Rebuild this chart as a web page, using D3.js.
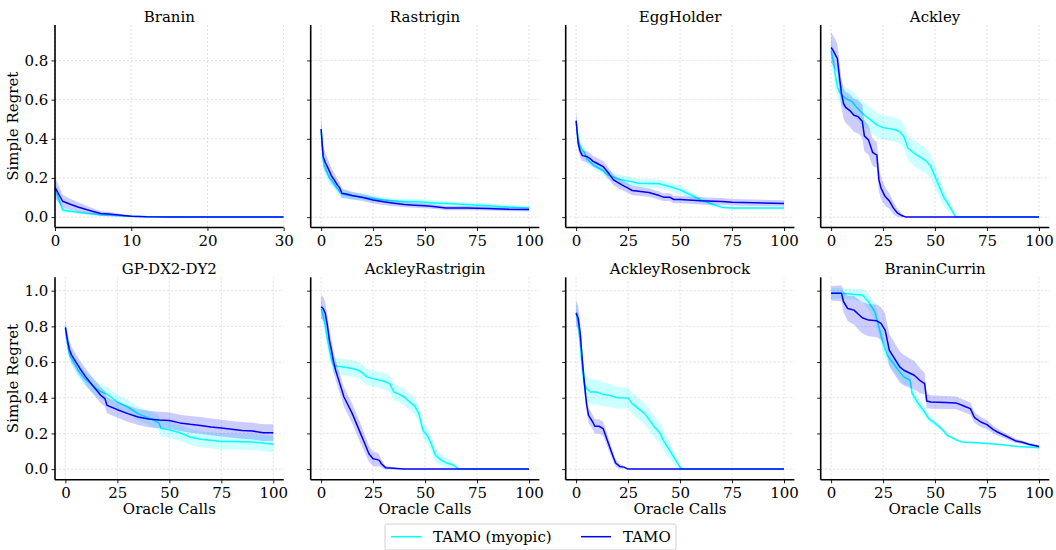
<!DOCTYPE html>
<html>
<head>
<meta charset="utf-8">
<script src="https://cdn.jsdelivr.net/npm/d3@7"></script>
<style>
  html, body { margin: 0; padding: 0; background: #fff; }
  svg { display: block; }
  svg text { font-family: "DejaVu Serif", serif; }
</style>
</head>
<body>
<svg id="chart" width="1056" height="550"></svg>
<script>
// Simple regret vs. oracle calls: each row is [x, mean, half-width of band]
const titles = ["Branin", "Rastrigin", "EggHolder", "Ackley",
                "GP-DX2-DY2", "AckleyRastrigin", "AckleyRosenbrock", "BraninCurrin"];
const seriesNames = ["TAMO (myopic)", "TAMO"];
const xTicksShort = [0, 10, 20, 30];
const xTicksLong = [0, 25, 50, 75, 100];
const yTicksTop = [0, 0.2, 0.4, 0.6, 0.8];
const yTicksBottom = [0, 0.2, 0.4, 0.6, 0.8, 1.0];

const braninMyopic = [[0,0.148,0.045],[1,0.036,0.010],[2,0.030,0.009],[3,0.025,0.008],[4,0.020,0.007],[5,0.016,0.006],[6,0.012,0.005],[7,0.010,0.004],[8,0.008,0.003],[9,0.006,0.003],[10,0.004,0.002],[12,0.002,0.001],[15,0.001,0.0005],[20,0.0005,0],[30,0.0005,0]];
const braninTamo = [[0,0.152,0.055],[1,0.081,0.033],[2,0.066,0.028],[3,0.052,0.024],[4,0.040,0.020],[5,0.029,0.016],[6,0.018,0.012],[7,0.016,0.011],[8,0.012,0.009],[9,0.008,0.007],[10,0.005,0.005],[12,0.002,0.002],[15,0.001,0.001],[20,0.0005,0],[30,0.0005,0]];

const rastriginMyopic = [[0,0.44,0.06],[1,0.29,0.045],[2,0.255,0.04],[3,0.225,0.036],[4,0.2,0.033],[5,0.19,0.03],[6,0.175,0.028],[7,0.16,0.026],[8,0.145,0.024],[9,0.13,0.022],[10,0.118,0.02],[12,0.114,0.019],[15,0.108,0.018],[20,0.103,0.017],[25,0.095,0.016],[30,0.088,0.015],[35,0.083,0.015],[40,0.080,0.014],[45,0.078,0.014],[50,0.076,0.014],[55,0.072,0.013],[60,0.069,0.013],[70,0.064,0.012],[80,0.058,0.012],[90,0.052,0.011],[100,0.047,0.011]];
const rastriginTamo = [[0,0.45,0.075],[1,0.31,0.055],[2,0.28,0.05],[3,0.258,0.045],[4,0.235,0.042],[5,0.21,0.04],[6,0.195,0.036],[7,0.178,0.033],[8,0.162,0.03],[9,0.148,0.028],[10,0.122,0.024],[12,0.118,0.022],[15,0.110,0.02],[20,0.100,0.018],[25,0.087,0.017],[30,0.078,0.016],[35,0.071,0.015],[40,0.064,0.014],[45,0.061,0.013],[50,0.058,0.013],[55,0.053,0.012],[60,0.046,0.011],[70,0.046,0.011],[80,0.044,0.01],[90,0.040,0.01],[100,0.039,0.01]];

const eggMyopic = [[0,0.49,0.04],[1,0.40,0.03],[2,0.36,0.025],[4,0.33,0.022],[5,0.30,0.022],[8,0.27,0.022],[10,0.255,0.022],[13,0.238,0.022],[15,0.216,0.022],[18,0.204,0.022],[20,0.195,0.022],[25,0.185,0.022],[30,0.173,0.022],[35,0.172,0.022],[40,0.17,0.022],[45,0.156,0.022],[50,0.14,0.022],[55,0.114,0.02],[60,0.088,0.016],[65,0.068,0.012],[70,0.051,0.008],[75,0.046,0.006],[100,0.046,0.006]];
const eggTamo = [[0,0.493,0.05],[1,0.377,0.035],[2,0.335,0.03],[3,0.314,0.028],[5,0.31,0.028],[7,0.297,0.028],[8,0.286,0.028],[10,0.275,0.028],[13,0.258,0.028],[15,0.233,0.028],[18,0.19,0.027],[20,0.177,0.027],[22,0.165,0.026],[25,0.148,0.025],[27,0.136,0.024],[30,0.132,0.023],[35,0.126,0.022],[40,0.11,0.021],[42,0.102,0.02],[45,0.102,0.02],[47,0.09,0.019],[50,0.09,0.019],[60,0.083,0.018],[70,0.08,0.017],[75,0.076,0.017],[100,0.07,0.016]];

const ackleyMyopic = [[0,0.85,0.065],[1,0.80,0.065],[2,0.73,0.06],[3,0.666,0.058],[4,0.64,0.056],[5,0.624,0.055],[7,0.607,0.055],[10,0.59,0.055],[12,0.565,0.058],[15,0.53,0.06],[18,0.505,0.062],[22,0.471,0.062],[25,0.457,0.062],[30,0.449,0.062],[33,0.437,0.062],[35,0.412,0.062],[37,0.352,0.062],[40,0.326,0.065],[43,0.306,0.065],[46,0.284,0.065],[48,0.258,0.062],[50,0.207,0.058],[52,0.156,0.052],[54,0.105,0.045],[56,0.071,0.035],[58,0.037,0.022],[60,0,0],[100,0,0]];
const ackleyTamo = [[0,0.866,0.077],[1,0.85,0.077],[2,0.83,0.077],[3,0.81,0.077],[4,0.717,0.075],[5,0.632,0.075],[6,0.58,0.078],[7,0.56,0.08],[9,0.544,0.082],[11,0.52,0.085],[13,0.513,0.085],[15,0.49,0.085],[16,0.415,0.08],[18,0.394,0.075],[20,0.33,0.07],[21,0.323,0.068],[22,0.318,0.065],[23,0.19,0.06],[24,0.148,0.055],[26,0.105,0.048],[28,0.083,0.04],[30,0.046,0.032],[32,0.02,0.02],[34,0.008,0.01],[36,0,0],[100,0,0]];

const gpMyopic = [[0,0.79,0.04],[1,0.70,0.04],[2,0.64,0.04],[3,0.62,0.04],[5,0.58,0.04],[7,0.54,0.04],[10,0.50,0.04],[13,0.47,0.04],[15,0.45,0.04],[17,0.435,0.04],[20,0.42,0.04],[25,0.376,0.04],[30,0.348,0.04],[35,0.311,0.04],[40,0.287,0.04],[45,0.259,0.042],[46,0.227,0.045],[50,0.221,0.045],[55,0.204,0.045],[60,0.18,0.045],[65,0.167,0.045],[70,0.161,0.045],[75,0.155,0.045],[80,0.155,0.045],[90,0.152,0.045],[95,0.146,0.045],[100,0.139,0.045]];
const gpTamo = [[0,0.794,0.045],[1,0.723,0.045],[2,0.667,0.045],[3,0.639,0.045],[5,0.601,0.045],[7,0.564,0.045],[10,0.513,0.045],[13,0.47,0.045],[15,0.442,0.045],[17,0.414,0.045],[19,0.395,0.045],[20,0.358,0.045],[25,0.333,0.045],[30,0.311,0.045],[35,0.292,0.045],[40,0.281,0.046],[45,0.275,0.046],[50,0.272,0.046],[55,0.259,0.046],[60,0.251,0.047],[65,0.245,0.047],[70,0.236,0.047],[75,0.23,0.047],[80,0.223,0.047],[85,0.217,0.047],[90,0.213,0.047],[95,0.204,0.047],[100,0.204,0.047]];

const ackRasMyopic = [[0,0.90,0.05],[1,0.86,0.05],[2,0.80,0.05],[3,0.73,0.048],[4,0.67,0.047],[5,0.61,0.046],[6,0.582,0.046],[8,0.577,0.046],[10,0.573,0.046],[15,0.564,0.046],[18,0.554,0.046],[20,0.539,0.046],[22,0.517,0.046],[25,0.507,0.046],[30,0.494,0.046],[33,0.479,0.046],[35,0.432,0.046],[37,0.423,0.046],[40,0.404,0.046],[42,0.382,0.046],[45,0.354,0.046],[47,0.311,0.046],[49,0.217,0.046],[51,0.189,0.046],[53,0.142,0.044],[55,0.077,0.038],[58,0.049,0.032],[60,0.036,0.027],[63,0.026,0.02],[65,0.011,0.01],[66,0,0],[100,0,0]];
const ackRasTamo = [[0,0.91,0.065],[1,0.90,0.065],[2,0.873,0.062],[3,0.807,0.06],[4,0.723,0.058],[5,0.667,0.056],[6,0.601,0.055],[7,0.554,0.055],[9,0.479,0.055],[11,0.404,0.055],[13,0.358,0.055],[15,0.311,0.055],[17,0.255,0.055],[19,0.199,0.055],[21,0.143,0.05],[23,0.086,0.045],[25,0.058,0.04],[27,0.053,0.038],[28,0.049,0.033],[29,0.03,0.022],[31,0.008,0.01],[33,0.006,0.008],[38,0.002,0.003],[40,0,0],[100,0,0]];

const ackRosMyopic = [[0,0.87,0.065],[1,0.82,0.065],[2,0.70,0.065],[3,0.554,0.065],[4,0.479,0.068],[5,0.451,0.07],[7,0.432,0.07],[10,0.432,0.07],[13,0.419,0.068],[16,0.414,0.065],[20,0.40,0.062],[25,0.399,0.06],[27,0.367,0.06],[30,0.339,0.06],[33,0.311,0.06],[36,0.264,0.06],[38,0.23,0.06],[40,0.208,0.06],[42,0.161,0.055],[45,0.105,0.045],[48,0.049,0.03],[50,0.011,0.01],[51,0,0],[100,0,0]];
const ackRosTamo = [[0,0.876,0.07],[1,0.845,0.068],[2,0.76,0.064],[3,0.61,0.056],[4,0.479,0.05],[5,0.367,0.045],[6,0.301,0.042],[8,0.264,0.04],[9,0.24,0.04],[11,0.24,0.04],[13,0.227,0.04],[15,0.161,0.036],[17,0.096,0.03],[19,0.034,0.022],[21,0.015,0.013],[23,0.011,0.008],[25,0,0],[100,0,0]];

const braninCurrinMyopic = [[0,0.985,0.03],[5,0.985,0.03],[10,0.98,0.03],[15,0.976,0.035],[18,0.938,0.045],[21,0.882,0.05],[23,0.798,0.05],[25,0.704,0.05],[27,0.639,0.048],[30,0.592,0.045],[33,0.545,0.042],[35,0.517,0.04],[38,0.498,0.038],[39,0.423,0.035],[42,0.367,0.033],[45,0.32,0.028],[47,0.283,0.022],[50,0.258,0.016],[53,0.227,0.012],[56,0.189,0.01],[60,0.165,0.008],[63,0.152,0.006],[70,0.148,0.005],[80,0.139,0.005],[90,0.127,0.005],[100,0.12,0.005]];
const braninCurrinTamo = [[0,0.985,0.04],[5,0.985,0.045],[6,0.938,0.06],[8,0.90,0.07],[9,0.897,0.075],[11,0.891,0.08],[13,0.869,0.085],[15,0.848,0.088],[18,0.835,0.09],[22,0.831,0.092],[24,0.817,0.092],[26,0.779,0.092],[28,0.667,0.09],[30,0.629,0.09],[33,0.573,0.088],[35,0.554,0.085],[40,0.526,0.08],[43,0.494,0.07],[45,0.479,0.06],[46,0.382,0.04],[48,0.376,0.038],[55,0.373,0.036],[60,0.371,0.036],[63,0.358,0.035],[65,0.348,0.035],[67,0.339,0.034],[69,0.288,0.03],[72,0.264,0.028],[75,0.249,0.026],[78,0.221,0.022],[80,0.208,0.02],[85,0.18,0.015],[89,0.157,0.012],[92,0.15,0.01],[95,0.139,0.008],[100,0.127,0.006]];

const myopicSets = [braninMyopic, rastriginMyopic, eggMyopic, ackleyMyopic,
                    gpMyopic, ackRasMyopic, ackRosMyopic, braninCurrinMyopic];
const tamoSets = [braninTamo, rastriginTamo, eggTamo, ackleyTamo,
                  gpTamo, ackRasTamo, ackRosTamo, braninCurrinTamo];

// ---- layout & style ----
const colors = ["#00ffff", "#0000ff"];
const bandColors = ["rgba(0,255,255,0.2)", "rgba(0,0,255,0.2)"];
const colLeft = [55, 310.7, 565.7, 820.7];
const panelW = 228.7;
const rowTop = [25, 277.3];
const panelH = 202.5;
const yDomains = [[-0.053, 0.981], [-0.06, 1.075]];
const fontSize = 15;
const serif = "'DejaVu Serif', serif";

const svg = d3.select("#chart");

titles.forEach((title, i) => {
  const row = Math.floor(i / 4), col = i % 4;
  const g = svg.append("g").attr("transform", `translate(${colLeft[col]},${rowTop[row]})`);
  const isShort = i === 0;
  const x = d3.scaleLinear().domain(isShort ? [0, 30] : [-5, 105]).range([0, panelW]);
  const y = d3.scaleLinear().domain(yDomains[row]).range([panelH, 0]);
  const xt = isShort ? xTicksShort : xTicksLong;
  const yt = row === 0 ? yTicksTop : yTicksBottom;

  // dotted grid at tick positions
  g.append("g").selectAll("line").data(xt).join("line")
    .attr("x1", d => x(d)).attr("x2", d => x(d)).attr("y1", 0).attr("y2", panelH)
    .attr("stroke", "#d9d9d9").attr("stroke-width", 0.8).attr("stroke-dasharray", "2,2");
  g.append("g").selectAll("line").data(yt).join("line")
    .attr("y1", d => y(d)).attr("y2", d => y(d)).attr("x1", 0).attr("x2", panelW)
    .attr("stroke", "#d9d9d9").attr("stroke-width", 0.8).attr("stroke-dasharray", "2,2");

  const clipId = "clip" + i;
  g.append("clipPath").attr("id", clipId).append("rect")
    .attr("width", panelW).attr("height", panelH);
  const plot = g.append("g").attr("clip-path", `url(#${clipId})`);

  const area = d3.area().x(d => x(d[0])).y0(d => y(d[1] - d[2])).y1(d => y(d[1] + d[2]));
  const line = d3.line().x(d => x(d[0])).y(d => y(d[1]));

  [myopicSets[i], tamoSets[i]].forEach((data, s) => {
    plot.append("path").datum(data).attr("d", area).attr("fill", bandColors[s]);
    plot.append("path").datum(data).attr("d", line)
      .attr("fill", "none").attr("stroke", colors[s]).attr("stroke-width", 1.5)
      .attr("stroke-linejoin", "round");
  });

  // axes
  const xAxis = d3.axisBottom(x).tickValues(xt).tickSize(3.5).tickPadding(4).tickFormat(d3.format("d"));
  const yAxis = d3.axisLeft(y).tickValues(yt).tickSize(3.5).tickPadding(3.2)
    .tickFormat(col === 0 ? d3.format(".1f") : () => "");
  const gx = g.append("g").attr("transform", `translate(0,${panelH})`).call(xAxis);
  const gy = g.append("g").call(yAxis);
  [gx, gy].forEach(a => {
    a.attr("font-family", serif).attr("font-size", fontSize);
    a.select(".domain").attr("stroke", "#000").attr("stroke-width", 1.6);
    a.selectAll(".tick line").attr("stroke", "#000").attr("stroke-width", 0.9);
    a.selectAll(".tick text").attr("fill", "#000");
  });
  // only the bottom and left spines, without end caps
  gx.select(".domain").attr("d", `M0,0H${panelW}`);
  gy.select(".domain").attr("d", `M0,${panelH}V0`);

  g.append("text").attr("x", panelW / 2).attr("y", -3.5)
    .attr("text-anchor", "middle").attr("font-family", serif).attr("font-size", fontSize).text(title);

  if (col === 0) {
    g.append("text").attr("transform", `translate(${-37},${panelH / 2}) rotate(-90)`)
      .attr("text-anchor", "middle").attr("font-family", serif).attr("font-size", fontSize)
      .text("Simple Regret");
  }
  if (row === 1) {
    g.append("text").attr("x", panelW / 2).attr("y", panelH + 34.4)
      .attr("text-anchor", "middle").attr("font-family", serif).attr("font-size", fontSize)
      .text("Oracle Calls");
  }
});

// legend
const lg = svg.append("g").attr("transform", "translate(385,524)");
lg.append("rect").attr("x", 0).attr("y", 0).attr("width", 291).attr("height", 26)
  .attr("rx", 2).attr("fill", "#fff").attr("stroke", "#cccccc").attr("stroke-width", 0.9);
const legendX = [[6, 48], [196, 238]];
seriesNames.forEach((name, s) => {
  lg.append("line").attr("x1", legendX[s][0]).attr("x2", legendX[s][0] + 30)
    .attr("y1", 12.7).attr("y2", 12.7).attr("stroke", colors[s]).attr("stroke-width", 1.5);
  lg.append("text").attr("x", legendX[s][1]).attr("y", 12.7).attr("dy", "0.35em")
    .attr("font-family", serif).attr("font-size", fontSize).text(name);
});
</script>
</body>
</html>
